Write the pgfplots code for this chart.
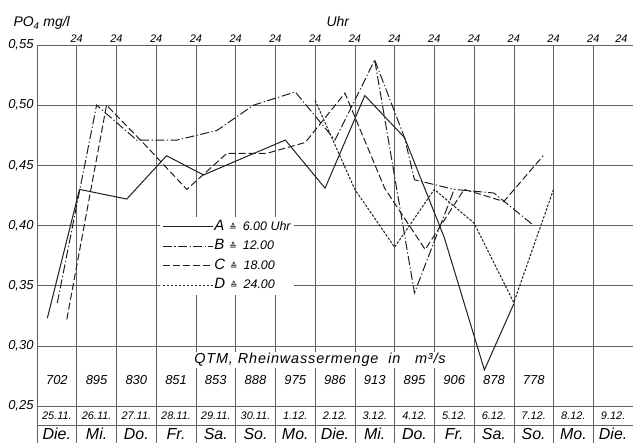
\documentclass[border=0pt]{standalone}
\usepackage{pgfplots}
\pgfplotsset{compat=1.18}
\usepackage{fontspec}
\setmainfont{Liberation Sans}
\newfontfamily\dejavu{DejaVu Sans}
\definecolor{ink}{gray}{0.12}
\definecolor{gridc}{gray}{0.38}

\begin{document}
\begin{tikzpicture}[x=1bp,y=1bp]
\begin{axis}[
    at={(0,0)}, anchor=south west,
    scale only axis, width=596bp, height=398bp,
    xmin=0, xmax=15, ymin=0.2193, ymax=0.55,
    xtick={1,...,14}, xticklabels={},
    ytick={0.25,0.30,0.35,0.40,0.45,0.50,0.55},
    extra y ticks={0.2342}, extra y tick labels={},
    extra y tick style={grid=major},
    grid=major,
    major grid style={gridc, line width=0.6pt},
    major tick length=0pt,
    axis line style={gridc, line width=0.7pt},
    yticklabel style={font=\itshape\fontsize{13}{13}\selectfont,
        /pgf/number format/.cd, use comma, fixed, fixed zerofill,
        precision=2, assume math mode=true},
    legend image code/.code={\draw[#1] (0bp,0bp) -- (50bp,0bp);},
    legend style={at={(axis cs:3.1,0.4071)}, anchor=north west,
        draw=none, fill=white, inner xsep=2bp, inner ysep=1bp,
        font=\itshape\fontsize{12.5}{12.5}\selectfont,
        nodes={text height=10bp, text depth=3bp, inner ysep=2bp, inner xsep=1bp},
        row sep=2.5bp},
    legend cell align=left,
    every axis plot/.append style={ink, line width=1pt, no marks},
]
\addplot[solid] coordinates {(0.26,0.323) (1.07,0.430) (2.26,0.422) (3.26,0.458)
    (4.19,0.442) (5.25,0.457) (6.25,0.471) (7.25,0.431) (8.25,0.508)
    (9.25,0.473) (10.25,0.390) (11.26,0.280) (12.0,0.335)};
\addlegendentry{{\fontsize{15}{15}\selectfont A}\hspace{5bp}{\dejavu\fontsize{9}{9}\selectfont ≙}\hspace{6bp}6.00 Uhr}
\addplot[dash pattern=on 9bp off 2.5bp on 1.2bp off 2.5bp] coordinates {
    (0.51,0.3355) (1.5,0.50) (2.51,0.471) (3.52,0.471) (4.53,0.479)
    (5.45,0.50) (6.5,0.511) (7.5,0.471) (8.5,0.5375) (9.5,0.344)
    (10.5,0.43) (11.5,0.427) (12.5,0.40)};
\addlegendentry{{\fontsize{15}{15}\selectfont B}\hspace{5bp}{\dejavu\fontsize{9}{9}\selectfont ≙}\hspace{6bp}12.00}
\addplot[dash pattern=on 7bp off 3bp] coordinates {
    (0.75,0.322) (1.75,0.50) (2.75,0.466) (3.77,0.43) (4.78,0.46)
    (5.79,0.46) (6.75,0.469) (7.75,0.510) (8.75,0.431) (9.77,0.38)
    (10.75,0.43) (11.75,0.42) (12.74,0.458)};
\addlegendentry{{\fontsize{15}{15}\selectfont C}\hspace{5bp}{\dejavu\fontsize{9}{9}\selectfont ≙}\hspace{6bp}18.00}
\addplot[dash pattern=on 2.5bp off 1.5bp] coordinates {
    (7.0,0.504) (8.0,0.43) (9.0,0.382) (10.0,0.43) (11.0,0.402)
    (12.0,0.336) (13.0,0.43)};
\addlegendentry{{\fontsize{15}{15}\selectfont D}\hspace{5bp}{\dejavu\fontsize{9}{9}\selectfont ≙}\hspace{6bp}24.00}
% second dash-dot trace drawn on the sheet between 3.12. and 5.12.
\addplot[forget plot, dash pattern=on 9bp off 2.5bp on 1.2bp off 2.5bp] coordinates {
    (8.5,0.5375) (9.25,0.473) (9.5,0.438) (10.5,0.43)};
\end{axis}

% labels round the plot
\node[anchor=base west, font=\itshape\fontsize{14}{14}\selectfont] at (-27,416) {PO\textsubscript{4} mg/l};
\node[anchor=base west, font=\itshape\fontsize{14}{14}\selectfont] at (286,416) {Uhr};
\foreach \i in {1,...,14}
    \node[anchor=base, font=\itshape\fontsize{11}{11}\selectfont] at ({\i*39.733},400) {24};
\node[anchor=base east, font=\itshape\fontsize{11}{11}\selectfont] at (594,400) {24};

% QTM row
\node[anchor=base, fill=white, inner sep=1.5bp,
      font=\itshape\fontsize{14.5}{14.5}\selectfont\addfontfeatures{LetterSpace=6}]
    at (283,79) {QTM,\ Rheinwassermenge\ \ in\ \ \ m³/s};
\foreach \q [count=\i from 0] in {702,895,830,851,853,888,975,986,913,895,906,878,778}
    \node[anchor=base, font=\itshape\fontsize{13}{13}\selectfont] at ({(\i+0.5)*39.733},58) {\q};

% dates and days
\foreach \d [count=\i from 0] in {25.11.,26.11.,27.11.,28.11.,29.11.,30.11.,1.12.,2.12.,3.12.,4.12.,5.12.,6.12.,7.12.,8.12.,9.12.}
    \node[anchor=base, font=\itshape\fontsize{11}{11}\selectfont] at ({(\i+0.5)*39.733},23) {\d};
\foreach \d [count=\i from 0] in {Die.,Mi.,Do.,Fr.,Sa.,So.,Mo.,Die.,Mi.,Do.,Fr.,Sa.,So.,Mo.,Die.}
    \node[anchor=base, font=\itshape\fontsize{16}{16}\selectfont] at ({(\i+0.5)*39.733},3) {\d};

\pgfresetboundingbox
\path (-37,0) rectangle (596,443);
\end{tikzpicture}
\end{document}
